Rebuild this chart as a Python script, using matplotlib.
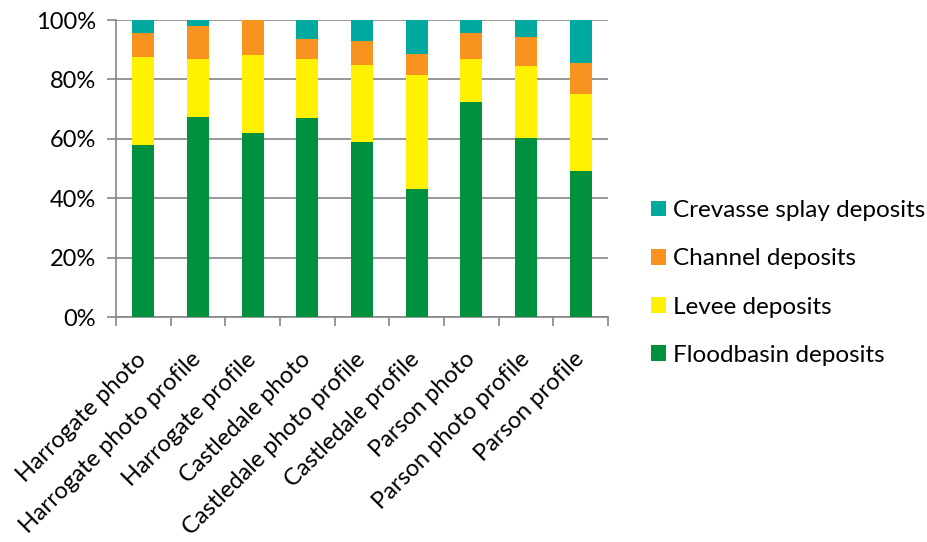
import matplotlib.pyplot as plt
import numpy as np
from matplotlib.ticker import PercentFormatter

plt.rcParams['font.family'] = ['Lato', 'DejaVu Sans']

sites = ["Harrogate photo", "Harrogate photo profile", "Harrogate profile",
         "Castledale photo", "Castledale photo profile", "Castledale profile",
         "Parson photo", "Parson photo profile", "Parson profile"]

floodbasin = [58.0, 67.5, 62.1, 67.1, 59.1, 43.0, 72.4, 60.2, 49.3]
levee = [29.4, 19.4, 26.0, 19.8, 25.9, 38.6, 14.6, 24.3, 25.7]
channel = [8.3, 11.1, 11.9, 6.6, 7.9, 7.0, 8.5, 9.9, 10.5]
crevasse = [4.3, 2.0, 0.0, 6.5, 7.1, 11.4, 4.5, 5.6, 14.5]

series = [("Floodbasin deposits", floodbasin, "#00913F"),
          ("Levee deposits", levee, "#FFF100"),
          ("Channel deposits", channel, "#F7931E"),
          ("Crevasse splay deposits", crevasse, "#00A99D")]

fig = plt.figure(figsize=(9.27, 5.42), dpi=100)
ax = fig.add_axes([0.125, 0.415, 0.531, 0.548])

x = np.arange(len(sites))
bottom = np.zeros(len(sites))
for name, vals, col in series:
    ax.bar(x, vals, 0.4, bottom=bottom, color=col, label=name, zorder=3)
    bottom += np.array(vals)

ax.set_xlim(-0.5, len(sites) - 0.5)
ax.set_ylim(0, 100)
ax.set_yticks(np.arange(0, 101, 20))
ax.yaxis.set_major_formatter(PercentFormatter(decimals=0))
ax.grid(axis='y', color='#868686', linewidth=1.2, zorder=0)

# ticks sit between categories, labels at the bar centres
ax.set_xticks(np.arange(-0.5, len(sites), 1.0))
ax.set_xticklabels([])
ax.set_xticks(x, minor=True)
ax.set_xticklabels(sites, minor=True, rotation=45, ha='right', va='center',
                   rotation_mode='anchor', fontsize=17)
ax.tick_params(axis='x', which='minor', length=0, pad=28)
ax.tick_params(axis='x', which='major', length=6.5, color='#868686', width=1.2)
ax.tick_params(axis='y', length=6.5, color='#868686', width=1.2, labelsize=17, pad=8)

for s in ['top', 'right']:
    ax.spines[s].set_visible(False)
for s in ['left', 'bottom']:
    ax.spines[s].set_color('#868686')
    ax.spines[s].set_linewidth(1.2)

h, l = ax.get_legend_handles_labels()
fig.legend(h[::-1], l[::-1], loc='center left', bbox_to_anchor=(0.702, 0.478),
           frameon=False, fontsize=17.5, handlelength=0.62, handleheight=0.62,
           labelspacing=1.12, handletextpad=0.3, borderpad=0, borderaxespad=0)

fig.savefig("out.png", dpi=100)
